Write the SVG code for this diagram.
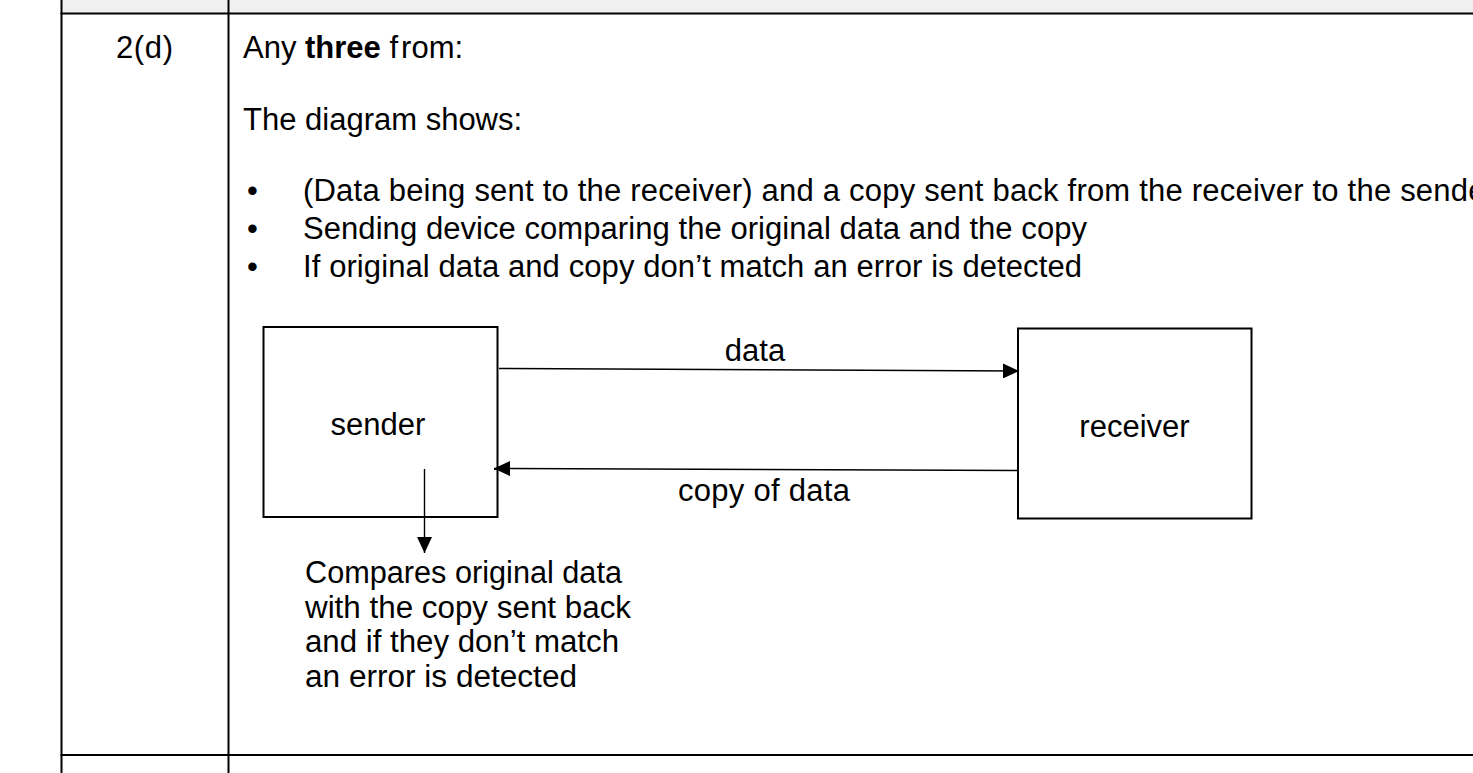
<svg xmlns="http://www.w3.org/2000/svg" width="1473" height="773" viewBox="0 0 1473 773">
<style>
text{font-family:"Liberation Sans",Arial,"Helvetica",sans-serif;font-size:31px;fill:#000}
.grid{stroke:#000;stroke-width:2;fill:none}
.box{fill:#fff;stroke:#000;stroke-width:2}
.conn{stroke:#000;stroke-width:1.4;fill:none}
</style>
<defs>
<marker id="ah" viewBox="0 0 16 15" refX="16" refY="7.5" markerWidth="16" markerHeight="15" markerUnits="userSpaceOnUse" orient="auto">
<path d="M0,0 L16,7.5 L0,15 Z" fill="#000"/>
</marker>
</defs>
<rect x="0" y="0" width="1473" height="773" fill="#fff"/>
<g id="table">
<rect x="61.5" y="0" width="1411.5" height="13.5" fill="#f0f0f0"/>
<line class="grid" x1="61.5" y1="0" x2="61.5" y2="773"/>
<line class="grid" x1="228.5" y1="0" x2="228.5" y2="773"/>
<line class="grid" x1="60.5" y1="13.5" x2="1473" y2="13.5" stroke-width="2.5"/>
<line class="grid" x1="60.5" y1="755" x2="1473" y2="755"/>
</g>
<g id="texts">
<text x="116" y="58" textLength="57" lengthAdjust="spacing">2(d)</text>
<text x="243" y="58">Any <tspan font-weight="bold">three</tspan> f<tspan dx="3">rom:</tspan></text>
<text x="243" y="130">The diagram shows:</text>
<text x="247" y="201">•</text>
<text x="247" y="239">•</text>
<text x="247" y="277">•</text>
<text x="303" y="201" textLength="1193" lengthAdjust="spacing">(Data being sent to the receiver) and a copy sent back from the receiver to the sender</text>
<text x="303" y="239" textLength="784" lengthAdjust="spacing">Sending device comparing the original data and the copy</text>
<text x="303" y="277" textLength="779" lengthAdjust="spacing">If original data and copy don’t match an error is detected</text>
</g>
<g id="sender">
<rect class="box" x="263.5" y="327" width="234" height="190"/>
<text x="378" y="435" text-anchor="middle">sender</text>
</g>
<g id="receiver">
<rect class="box" x="1018" y="328.5" width="233.5" height="190"/>
<text x="1134.5" y="437" text-anchor="middle">receiver</text>
</g>
<g id="note">
<text x="305" y="583" textLength="317" lengthAdjust="spacingAndGlyphs">Compares original data</text>
<text x="305" y="618" textLength="326" lengthAdjust="spacingAndGlyphs">with the copy sent back</text>
<text x="305" y="652" textLength="314" lengthAdjust="spacingAndGlyphs">and if they don’t match</text>
<text x="305" y="687" textLength="272" lengthAdjust="spacingAndGlyphs">an error is detected</text>
</g>
<g id="connectors">
<line class="conn" x1="499" y1="368.5" x2="1019" y2="371" marker-end="url(#ah)"/>
<line class="conn" x1="1018" y1="470.5" x2="494" y2="468.5" marker-end="url(#ah)"/>
<line class="conn" x1="424.5" y1="469" x2="424.5" y2="553" marker-end="url(#ah)"/>
<text x="755" y="361" text-anchor="middle">data</text>
<text x="678" y="501" textLength="172" lengthAdjust="spacing">copy of data</text>
</g>
</svg>
